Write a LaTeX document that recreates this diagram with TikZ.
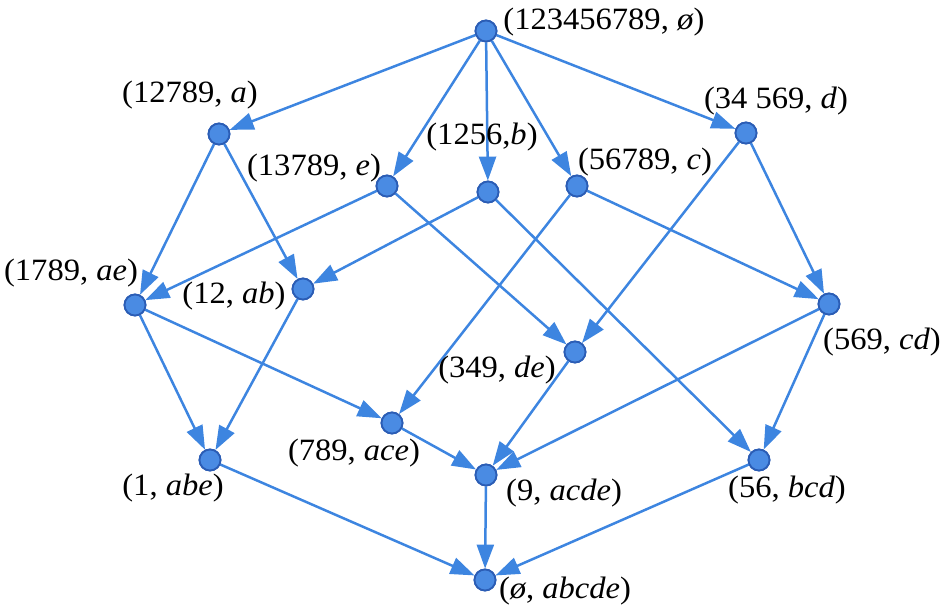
\documentclass[tikz,border=0pt]{standalone}
\usepackage{fontspec}
\setmainfont{Liberation Serif}[FakeStretch=1.05]
\usetikzlibrary{arrows.meta}
\definecolor{edgeblue}{HTML}{3D85E0}
\definecolor{nodefill}{HTML}{4A8BE3}
\definecolor{nodeborder}{HTML}{2B5DB5}
\tikzset{
  vtx/.style={circle,fill=nodefill,draw=nodeborder,line width=1.8pt,minimum size=21pt,inner sep=0pt},
  lbl/.style={inner sep=0pt,font=\fontsize{31}{33}\selectfont},
  arr/.style={draw=edgeblue,line width=2.5pt,-{Triangle[length=24pt,width=17pt]},fill=edgeblue},
}
\begin{document}
\begin{tikzpicture}[x=1pt,y=-1pt]
\useasboundingbox (0,0) rectangle (945,615);
% vertices
\node[vtx] (top) at (486,31) {};
\node[vtx] (a) at (219,134) {};
\node[vtx] (e) at (387,186) {};
\node[vtx] (b) at (488,192) {};
\node[vtx] (c) at (577,186) {};
\node[vtx] (d) at (746,133) {};
\node[vtx] (ae) at (135,305) {};
\node[vtx] (ab) at (303,289) {};
\node[vtx] (de) at (575,352) {};
\node[vtx] (ace) at (392,423) {};
\node[vtx] (acde) at (486,475) {};
\node[vtx] (cd) at (829,304) {};
\node[vtx] (bcd) at (759,460) {};
\node[vtx] (abe) at (210,460) {};
\node[vtx] (bot) at (485,580) {};
% edges
\foreach \s/\t in {top/a,top/e,top/b,top/c,top/d,a/ae,a/ab,e/ae,e/de,b/ab,b/bcd,c/ace,c/cd,d/de,d/cd,ae/abe,ae/ace,ab/abe,de/acde,cd/acde,cd/bcd,ace/acde,abe/bot,acde/bot,bcd/bot}
  \draw[arr] (\s) -- (\t);
% redraw vertices on top
\foreach \v in {top,a,e,b,c,d,ae,ab,de,ace,acde,cd,bcd,abe,bot}
  \node[vtx] at (\v.center) {};
% labels
\node[lbl] (ltop) at (604,22) {(123456789, \textit{ø})};
\node[lbl] (la) at (190,95) {(12789, \textit{a})};
\node[lbl] (le) at (314,168) {(13789, \textit{e})};
\node[lbl] (lb) at (482,137) {(1256,\textit{b})};
\node[lbl] (lc) at (645,162) {(56789, \textit{c})};
\node[lbl] (ld) at (776,101) {(34 569, \textit{d})};
\node[lbl] (lae) at (71,273) {(1789, \textit{ae})};
\node[lbl] (lab) at (234,296) {(12, \textit{ab})};
\node[lbl] (lde) at (497,370) {(349, \textit{de})};
\node[lbl] (lace) at (354,453) {(789, \textit{ace})};
\node[lbl] (lacde) at (564,493) {(9, \textit{acde})};
\node[lbl] (lcd) at (882,342) {(569, \textit{cd})};
\node[lbl] (lbcd) at (787,490) {(56, \textit{bcd})};
\node[lbl] (labe) at (173,488) {(1, \textit{abe})};
\node[lbl] (lbot) at (565,591) {(\textit{ø}, \textit{abcde})};
\end{tikzpicture}
\end{document}
